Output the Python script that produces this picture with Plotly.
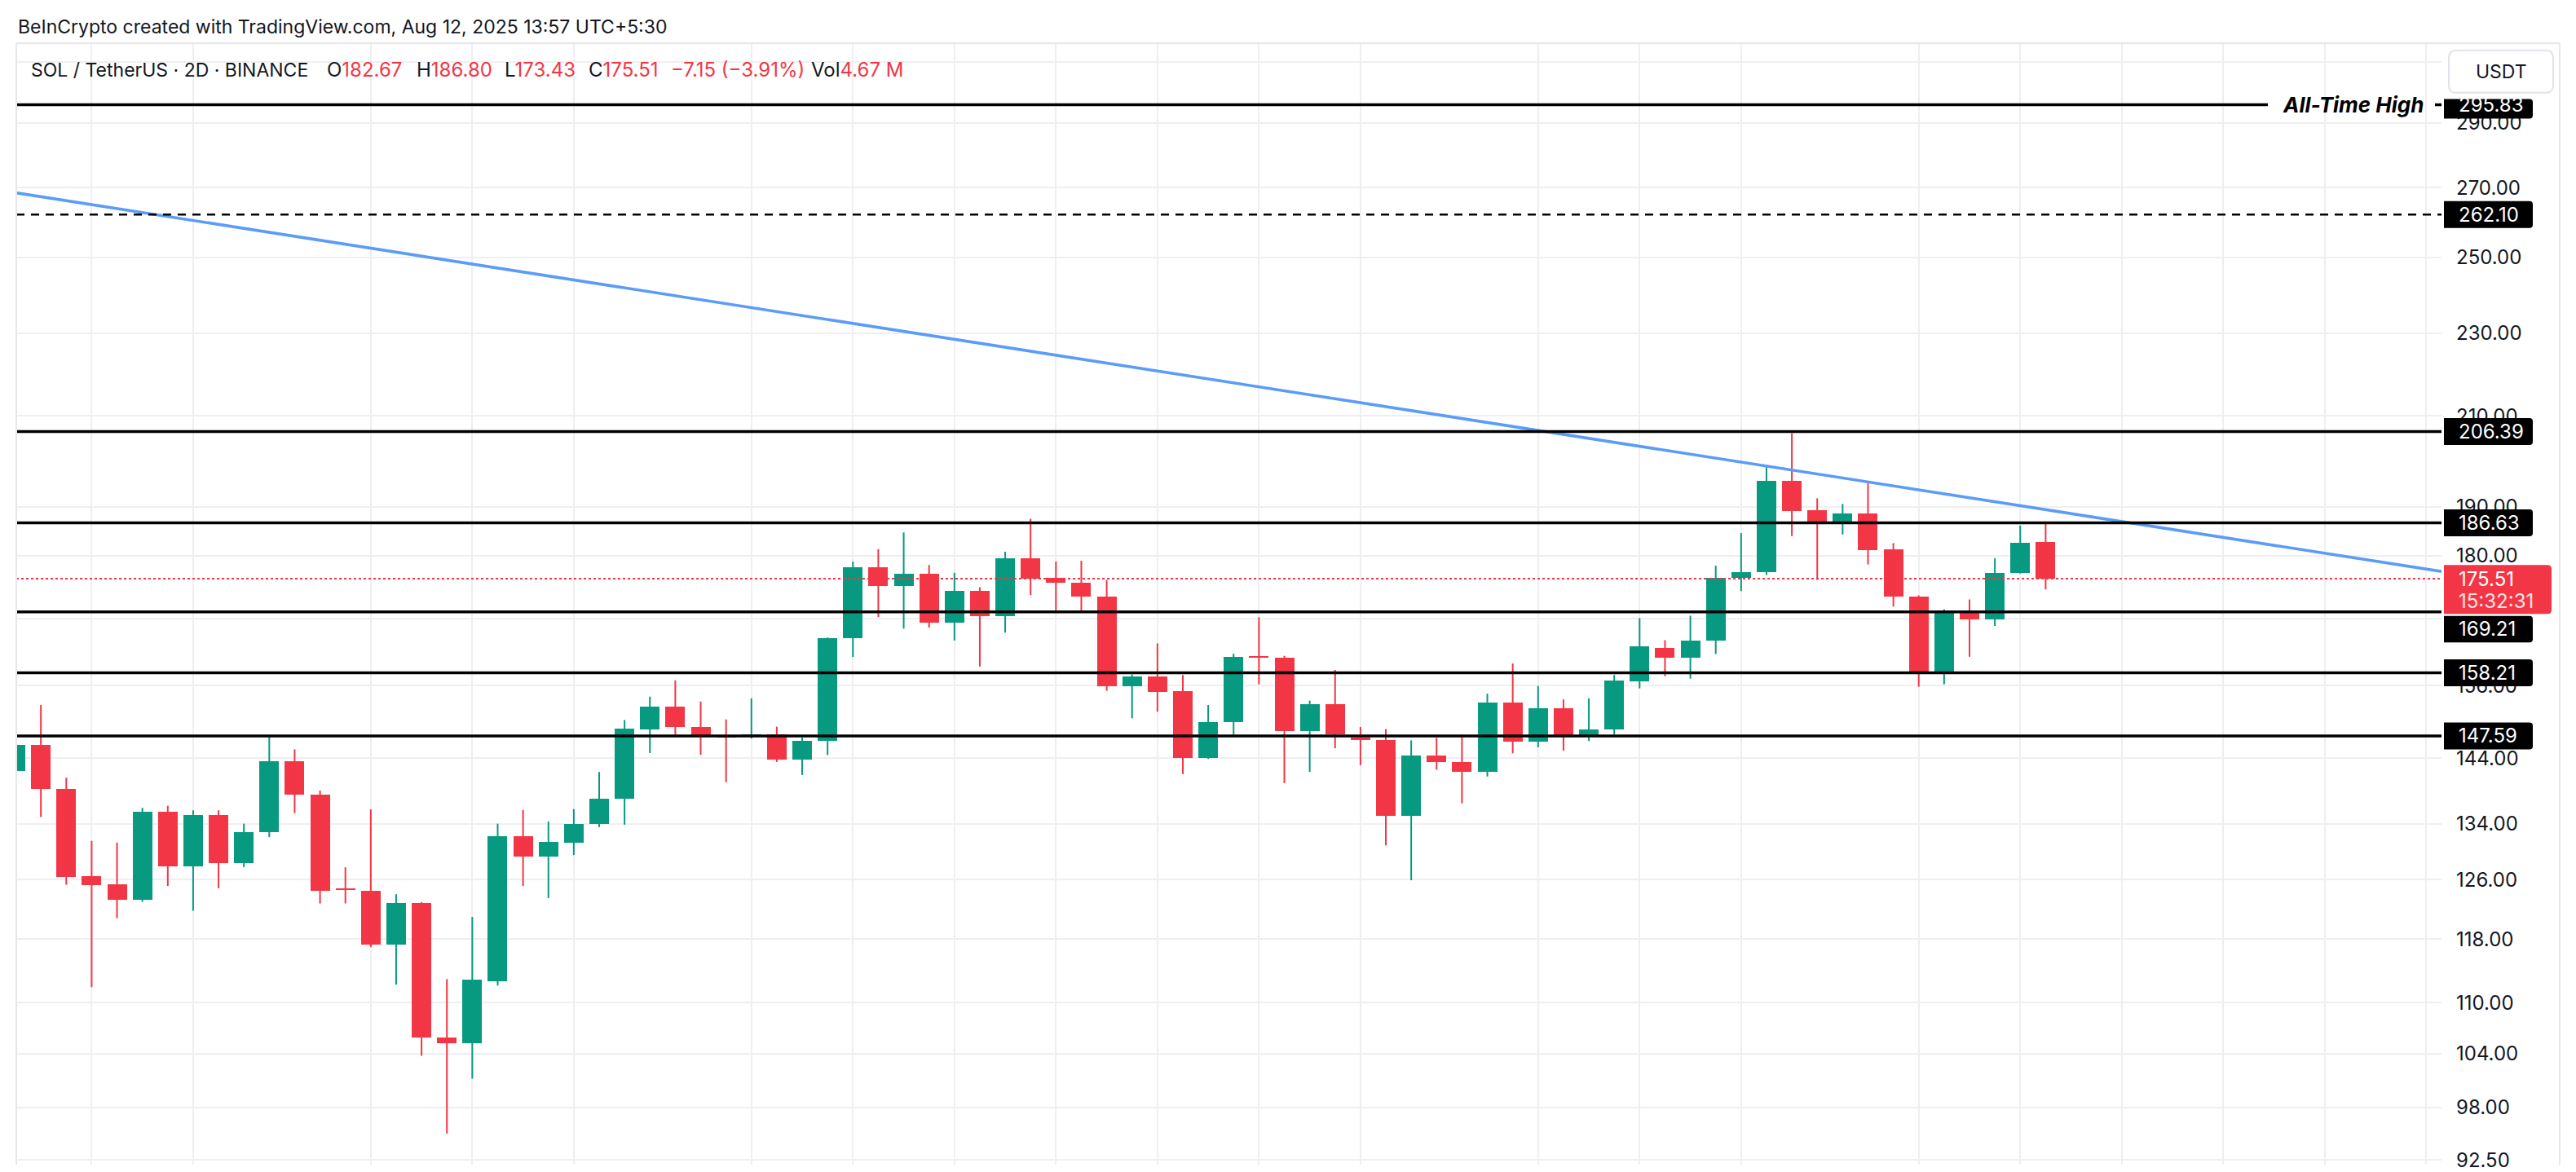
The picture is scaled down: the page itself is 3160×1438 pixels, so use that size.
import numpy as np
import pandas as pd
import plotly.graph_objects as go

# ---------------- data ----------------
start_date = "2025-03-04"
dates = pd.date_range(start_date, periods=81, freq="2D")

opens = [142.04, 146.15, 139.28, 126.44, 125.28, 123.23, 135.74, 127.82, 135.31, 128.27,
         132.77, 143.50, 138.30, 124.62, 124.42, 117.23, 122.76, 105.86, 105.23, 112.61,
         132.21, 129.22, 131.20, 133.90, 137.70, 148.70, 152.46, 149.10, 147.60, 147.60,
         147.87, 143.78, 146.75, 164.32, 177.77, 174.07, 176.48, 167.22, 173.24, 168.41,
         179.53, 175.60, 174.72, 172.10, 155.96, 157.59, 155.10, 144.05, 149.87, 161.20,
         160.86, 148.36, 152.84, 147.35, 146.90, 135.21, 144.40, 143.41, 141.88, 153.11,
         146.61, 152.16, 147.69, 148.71, 156.80, 162.68, 160.90, 163.86, 175.66, 176.70,
         195.56, 189.21, 186.92, 188.54, 181.30, 172.10, 158.48, 169.00, 167.80, 176.65,
         182.67]
highs = [147.20, 152.70, 140.95, 131.47, 131.23, 136.36, 136.65, 135.98, 135.98, 133.99,
         147.43, 145.42, 138.98, 127.70, 136.12, 123.97, 122.90, 112.90, 120.91, 133.99,
         136.03, 134.32, 136.16, 141.83, 150.19, 154.13, 156.90, 153.29, 150.30, 153.83,
         149.10, 147.35, 164.50, 178.86, 181.32, 184.69, 178.17, 176.64, 173.86, 180.80,
         187.48, 178.86, 179.00, 175.24, 157.91, 163.42, 157.83, 152.71, 161.58, 168.20,
         161.20, 153.43, 158.72, 149.07, 148.71, 146.87, 147.26, 147.83, 154.63, 159.86,
         155.95, 153.66, 153.84, 157.83, 168.05, 164.00, 168.50, 178.03, 184.55, 198.96,
         206.00, 191.76, 190.57, 194.92, 182.53, 172.30, 169.70, 171.53, 179.51, 186.09,
         186.80]
lows = [140.90, 134.98, 125.28, 111.91, 120.74, 122.93, 125.10, 121.72, 124.80, 127.73,
        132.02, 135.55, 122.72, 122.72, 116.95, 112.22, 103.76, 95.24, 101.17, 112.11,
        125.10, 123.45, 129.44, 133.50, 133.85, 144.84, 147.77, 144.57, 140.26, 147.17,
        143.42, 141.38, 144.52, 161.00, 168.24, 166.11, 166.31, 163.96, 159.32, 165.37,
        172.36, 169.45, 169.45, 155.12, 150.49, 151.57, 141.51, 143.90, 147.79, 156.23,
        140.12, 141.85, 145.60, 142.90, 130.82, 125.90, 142.19, 137.03, 141.13, 144.79,
        145.74, 145.20, 146.78, 147.83, 155.54, 157.63, 157.21, 161.53, 173.11, 176.23,
        183.94, 175.29, 184.27, 178.28, 170.20, 155.82, 156.23, 161.04, 166.60, 176.50,
        173.43]
closes = [146.15, 139.28, 126.35, 125.25, 123.23, 135.74, 127.82, 135.31, 128.27, 132.77,
          143.50, 138.30, 124.45, 124.50, 117.23, 122.76, 105.83, 105.23, 112.79, 132.21,
          129.22, 131.27, 133.96, 137.73, 148.73, 152.46, 149.01, 147.64, 147.45, 147.87,
          143.78, 146.75, 164.32, 177.77, 174.07, 176.48, 167.22, 173.24, 168.41, 179.53,
          175.57, 174.72, 172.04, 155.96, 157.59, 154.98, 144.05, 149.87, 160.96, 160.90,
          148.36, 152.84, 147.83, 146.91, 135.21, 144.40, 143.41, 141.88, 153.11, 146.61,
          152.16, 147.69, 148.71, 156.89, 162.88, 160.90, 163.86, 175.66, 176.76, 195.56,
          189.10, 186.92, 188.54, 181.17, 172.04, 158.48, 169.14, 167.79, 176.65, 182.53,
          175.51]

levels = [295.83, 262.10, 206.39, 186.63, 169.21, 158.21, 147.59]
level_labels = ["295.83", "262.10", "206.39", "186.63", "169.21", "158.21", "147.59"]
level_dash = ["solid", "10px,8px", "solid", "solid", "solid", "solid", "solid"]

last_price = 175.51
last_label = "175.51"
countdown = "15:32:31"

trend_x = ["2025-03-04", "2025-09-12"]
trend_y = [268.5, 176.6]

ath_text = "All-Time High"

ytick_vals = [92.5, 98, 104, 110, 118, 126, 134, 144, 156, 168, 180, 190, 210, 230, 250, 270, 290, 310]
ytick_text = ["92.50", "98.00", "104.00", "110.00", "118.00", "126.00", "134.00", "144.00", "156.00",
              "", "180.00", "190.00", "210.00", "230.00", "250.00", "270.00", "290.00", ""]

grid_dates = ["2025-03-10", "2025-03-18", "2025-04-01", "2025-04-09", "2025-04-17", "2025-05-01",
              "2025-05-09", "2025-05-17", "2025-05-25", "2025-06-02", "2025-06-10", "2025-06-18",
              "2025-07-02", "2025-07-10", "2025-07-18", "2025-08-01", "2025-08-09", "2025-08-17",
              "2025-08-25", "2025-09-02", "2025-09-10"]

header1 = "BeInCrypto created with TradingView.com, Aug 12, 2025 13:57 UTC+5:30"
symbol_text = "SOL / TetherUS · 2D · BINANCE"
ohlc_keys = ["O", "H", "L", "C"]
ohlc_vals = ["182.67", "186.80", "173.43", "175.51"]
change_text = "−7.15 (−3.91%)"
vol_text = "4.67 M"
currency = "USDT"

# ---------------- style ----------------
UP = "#089981"
DN = "#F23645"
TXT = "#131722"
GRID = "#EFEFF2"
FONT = "Inter"
W, H = 3160, 1438
ML, MR, MT, MB = 20, 165, 53, 0
PW = W - ML - MR
PH = H - MT - MB


def px_x(px):
    return (px - ML) / PW


def px_y(py):
    return 1 - (py - MT) / PH


body_ms = 1.542 * 86400000

fig = go.Figure()

# wicks
for flag, col in [(True, UP), (False, DN)]:
    wx, wy = [], []
    for i in range(len(dates)):
        if (closes[i] >= opens[i]) == flag:
            wx += [dates[i], dates[i], None]
            wy += [lows[i], highs[i], None]
    fig.add_trace(go.Scatter(x=wx, y=wy, mode="lines", line=dict(color=col, width=2),
                             hoverinfo="skip", showlegend=False))

# bodies
for flag, col in [(True, UP), (False, DN)]:
    bx, by, bb = [], [], []
    for i in range(len(dates)):
        if (closes[i] >= opens[i]) == flag:
            bx.append(dates[i])
            by.append(max(abs(closes[i] - opens[i]), 0.25))
            bb.append(min(opens[i], closes[i]))
    fig.add_trace(go.Bar(x=bx, y=by, base=bb, width=body_ms, marker=dict(color=col, line=dict(width=0)),
                         hoverinfo="skip", showlegend=False))

# trend line
fig.add_trace(go.Scatter(x=trend_x, y=trend_y, mode="lines", line=dict(color="#5B9CF6", width=3.6),
                         hoverinfo="skip", showlegend=False))

shapes = []
# last price dotted line
shapes.append(dict(type="line", xref="paper", yref="y", x0=0, x1=1, y0=last_price, y1=last_price,
                   line=dict(color=DN, width=2, dash="3px,3px"), layer="above"))

# horizontal levels
for lv, ds in zip(levels, level_dash):
    if lv == levels[0]:
        shapes.append(dict(type="line", xref="paper", yref="y", x0=0, x1=px_x(2782), y0=lv, y1=lv,
                           line=dict(color="#000000", width=3.5), layer="above"))
        shapes.append(dict(type="line", xref="paper", yref="y", x0=px_x(2987), x1=1, y0=lv, y1=lv,
                           line=dict(color="#000000", width=3.5), layer="above"))
    else:
        shapes.append(dict(type="line", xref="paper", yref="y", x0=0, x1=1, y0=lv, y1=lv,
                           line=dict(color="#000000", width=3.5 if ds == "solid" else 2.5, dash=ds),
                           layer="above"))


def rrect(x0, x1, y0, y1, rl, rr):
    return (f"M{x0 + rl},{y0} L{x1 - rr},{y0} Q{x1},{y0} {x1},{y0 + rr} L{x1},{y1 - rr} "
            f"Q{x1},{y1} {x1 - rr},{y1} L{x0 + rl},{y1} Q{x0},{y1} {x0},{y1 - rl} "
            f"L{x0},{y0 + rl} Q{x0},{y0} {x0 + rl},{y0} Z")


# pane frame
FR = "#E6E7EB"
shapes.append(dict(type="line", xref="paper", yref="paper", x0=0, x1=px_x(3140), y0=1, y1=1,
                   line=dict(color=FR, width=2), layer="above"))
shapes.append(dict(type="line", xref="paper", yref="paper", x0=0, x1=0, y0=0, y1=1,
                   line=dict(color=FR, width=2), layer="above"))
shapes.append(dict(type="line", xref="paper", yref="paper", x0=px_x(3140), x1=px_x(3140), y0=0, y1=1,
                   line=dict(color=FR, width=2), layer="above"))

# axis label boxes (vertical pixel offsets relative to each level; the 169.21 tag is pushed down
# below the live-price tag as in the reference)
box_offsets = {295.83: (-17, 7), 169.21: (-37.5, -5)}
text_shift = {169.21: -21}
for lv in levels:
    b0, b1 = box_offsets.get(lv, (-16.5, 16.5))
    shapes.append(dict(type="path", xref="paper", yref="y", xsizemode="pixel", ysizemode="pixel",
                       xanchor=px_x(2998), yanchor=lv, path=rrect(0, 109, b0, b1, 0, 4),
                       fillcolor="#000000", line=dict(width=0), layer="above"))

# last price box
shapes.append(dict(type="path", xref="paper", yref="y", xsizemode="pixel", ysizemode="pixel",
                   xanchor=px_x(2998), yanchor=last_price, path=rrect(0, 132, -43.3, 16.7, 0, 5),
                   fillcolor=DN, line=dict(width=0), layer="above"))

# currency button
shapes.append(dict(type="path", xref="paper", yref="paper", xsizemode="pixel", ysizemode="pixel",
                   xanchor=px_x(3068), yanchor=px_y(88), path=rrect(-64, 64, -26, 26, 9, 9),
                   fillcolor="#FFFFFF", line=dict(color="#E0E3EB", width=2), layer="above"))

annotations = []
annotations.append(dict(xref="paper", yref="paper", x=px_x(20), y=px_y(33), xanchor="left", yanchor="middle",
                        text=header1, showarrow=False, font=dict(family=FONT, size=23, color=TXT)))

red = lambda s: f"<span style='color:{DN}'>{s}</span>"
legend_items = [(36, symbol_text, 23)]
legend_x = [399, 509, 617, 720]
for k, v, xx in zip(ohlc_keys, ohlc_vals, legend_x):
    legend_items.append((xx, k + red(v), 24))
legend_items.append((821, red(change_text), 24))
legend_items.append((993, "Vol" + red(vol_text), 24))
for xx, tx, fs in legend_items:
    annotations.append(dict(xref="paper", yref="paper", x=px_x(xx), y=px_y(86), xanchor="left",
                            yanchor="middle", text=tx, showarrow=False,
                            font=dict(family=FONT, size=fs, color=TXT)))

annotations.append(dict(xref="paper", yref="y", x=px_x(2886), y=np.log10(levels[0]), xanchor="center",
                        yanchor="middle", text=ath_text, showarrow=False,
                        font=dict(family=FONT, size=26, color="#000000", weight="bold", style="italic")))

for lv, lab in zip(levels, level_labels):
    annotations.append(dict(xref="paper", yref="y", x=px_x(3014), y=np.log10(lv), xanchor="left",
                            yanchor="middle", yshift=text_shift.get(lv, 0), text=lab, showarrow=False,
                            font=dict(family=FONT, size=24, color="#FFFFFF")))

annotations.append(dict(xref="paper", yref="y", x=px_x(3014), y=np.log10(last_price), xanchor="left",
                        yanchor="middle", text=last_label, showarrow=False,
                        font=dict(family=FONT, size=24, color="#FFFFFF")))
annotations.append(dict(xref="paper", yref="y", x=px_x(3014), y=np.log10(last_price), xanchor="left",
                        yanchor="middle", yshift=-27, text=countdown, showarrow=False,
                        font=dict(family=FONT, size=24, color="#FFE4E6")))

annotations.append(dict(xref="paper", yref="paper", x=px_x(3068), y=px_y(88), xanchor="center",
                        yanchor="middle", text=currency, showarrow=False,
                        font=dict(family=FONT, size=23, color=TXT)))

x_start = pd.Timestamp(start_date)
x_range = [x_start + pd.Timedelta(hours=1.5), x_start + pd.Timedelta(days=191.2)]
y_top, y_bot = 316.59, 92.03

fig.update_layout(
    width=W, height=H,
    margin=dict(l=ML, r=MR, t=MT, b=MB, pad=0),
    paper_bgcolor="#FFFFFF", plot_bgcolor="#FFFFFF",
    barmode="overlay", bargap=0,
    showlegend=False,
    hovermode=False,
    shapes=shapes,
    annotations=annotations,
    xaxis=dict(type="date", range=x_range, showticklabels=False, tickmode="array", tickvals=grid_dates,
               showgrid=True, gridcolor=GRID, gridwidth=2, zeroline=False, showline=False, ticks="",
               fixedrange=True),
    yaxis=dict(type="log", side="right", range=[np.log10(y_bot), np.log10(y_top)], tickmode="array",
               tickvals=ytick_vals, ticktext=ytick_text, showgrid=True, gridcolor=GRID, gridwidth=2,
               zeroline=False, showline=False, ticks="", ticklabelstandoff=17, ticklabeloverflow="allow",
               tickfont=dict(family=FONT, size=24, color=TXT), fixedrange=True),
)

fig.write_html("out.html")
